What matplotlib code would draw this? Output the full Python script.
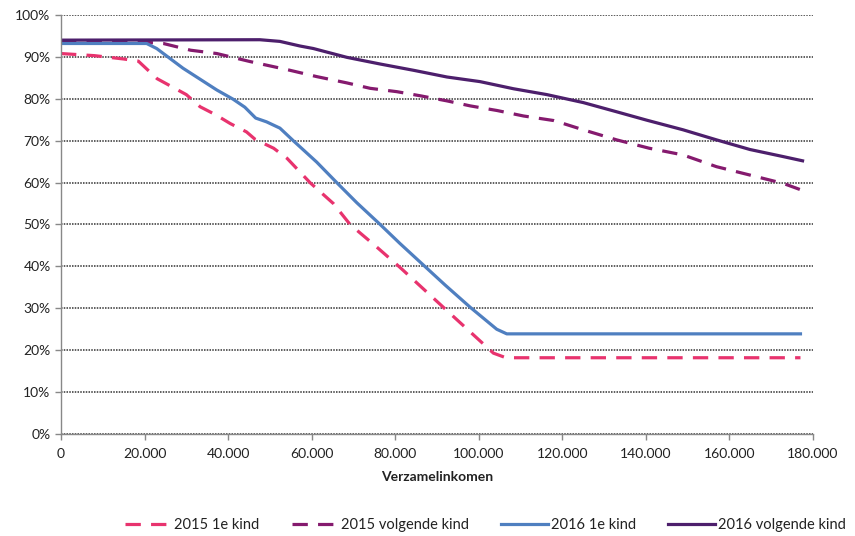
import matplotlib
matplotlib.use("Agg")
import matplotlib.pyplot as plt
from matplotlib.ticker import FuncFormatter, MultipleLocator

plt.rcParams['font.family'] = ['Lato', 'DejaVu Sans']

# 2015 1e kind
x_2015_1e = [0, 8000, 15000, 18500, 23000, 30000, 33300, 37000, 40500, 44400, 46500,
             50900, 54100, 59600, 65200, 69200, 75600, 81100, 92000, 103500, 106500, 177000]
y_2015_1e = [90.8, 90.3, 89.5, 89.0, 84.8, 81.0, 78.1, 76.2, 74.1, 72.1, 70.3,
             68.2, 65.8, 60.0, 55.0, 50.0, 44.6, 39.8, 29.8, 19.3, 18.2, 18.2]

# 2015 volgende kind
x_2015_vk = [0, 20000, 24500, 31000, 37300, 45200, 54400, 61200, 68400, 74000, 80400,
             86100, 92400, 98000, 104400, 110700, 118000, 125000, 133000, 140800,
             148900, 156900, 164900, 172900, 177300]
y_2015_vk = [93.5, 93.5, 93.2, 91.6, 90.8, 88.9, 86.9, 85.3, 83.8, 82.5, 81.7,
             80.7, 79.5, 78.3, 77.2, 75.9, 74.8, 72.6, 70.2, 68.2,
             66.6, 63.8, 61.8, 59.8, 58.2]

# 2016 1e kind
x_2016_1e = [0, 20500, 22900, 29200, 37300, 41200, 44000, 46600, 49200, 52400, 55600,
             61200, 66000, 70800, 76400, 81100, 86000, 92000, 98000, 104300, 106700, 177000]
y_2016_1e = [93.2, 93.2, 92.0, 87.3, 82.1, 79.9, 78.0, 75.4, 74.5, 73.0, 70.0,
             64.9, 60.0, 55.2, 50.0, 45.5, 41.0, 35.5, 30.2, 25.0, 23.9, 23.9]

# 2016 volgende kind
x_2016_vk = [0, 47600, 52400, 57200, 60400, 68400, 76400, 84400, 92400, 100300, 108300,
             116300, 125000, 133000, 140200, 148900, 156900, 164900, 172900, 177500]
y_2016_vk = [94.0, 94.1, 93.7, 92.6, 92.0, 89.9, 88.3, 86.8, 85.2, 84.1, 82.4,
             81.0, 79.1, 76.9, 74.9, 72.6, 70.2, 67.9, 66.2, 65.2]

fig = plt.figure(figsize=(8.55, 5.36), dpi=100)
ax = fig.add_axes([61/855, 1 - 434/536, (813 - 61)/855, (434 - 15)/536])

lw = 2.3
ax.plot(x_2015_1e, y_2015_1e, color='#E8336E', lw=lw, dashes=(4.8, 3.2),
        label='2015 1e kind')
ax.plot(x_2015_vk, y_2015_vk, color='#851A6E', lw=lw, dashes=(4.8, 3.2),
        label='2015 volgende kind')
ax.plot(x_2016_1e, y_2016_1e, color='#4F7FC0', lw=lw, label='2016 1e kind')
ax.plot(x_2016_vk, y_2016_vk, color='#4D1F6C', lw=lw, label='2016 volgende kind')

ax.set_xlim(0, 180000)
ax.set_ylim(0, 100)
ax.xaxis.set_major_locator(MultipleLocator(20000))
ax.yaxis.set_major_locator(MultipleLocator(10))
ax.xaxis.set_major_formatter(FuncFormatter(lambda v, p: f"{int(v):,}".replace(",", ".")))
ax.yaxis.set_major_formatter(FuncFormatter(lambda v, p: f"{int(v)}%"))

# dotted horizontal grid
ax.grid(axis='y', color='#333333', linestyle=(0, (1, 0.8)), linewidth=1.1)
ax.set_axisbelow(True)

for side in ['top', 'right']:
    ax.spines[side].set_visible(False)
for side in ['left', 'bottom']:
    ax.spines[side].set_color('#888888')
    ax.spines[side].set_linewidth(1.0)

ax.tick_params(axis='both', colors='#888888', length=4, width=1, labelsize=10,
               labelcolor='#222222', direction='out')
ax.tick_params(axis='x', pad=6)

ax.set_xlabel('Verzamelinkomen', fontsize=10, fontweight='bold', color='#222222',
              labelpad=8)

fig.legend(loc='center', bbox_to_anchor=(485/855, 1 - 525/536), ncol=4,
           frameon=False, fontsize=10.5, handlelength=3.2, columnspacing=2.2,
           handletextpad=0.2, labelcolor='#222222')

fig.savefig('out.png', dpi=100)
